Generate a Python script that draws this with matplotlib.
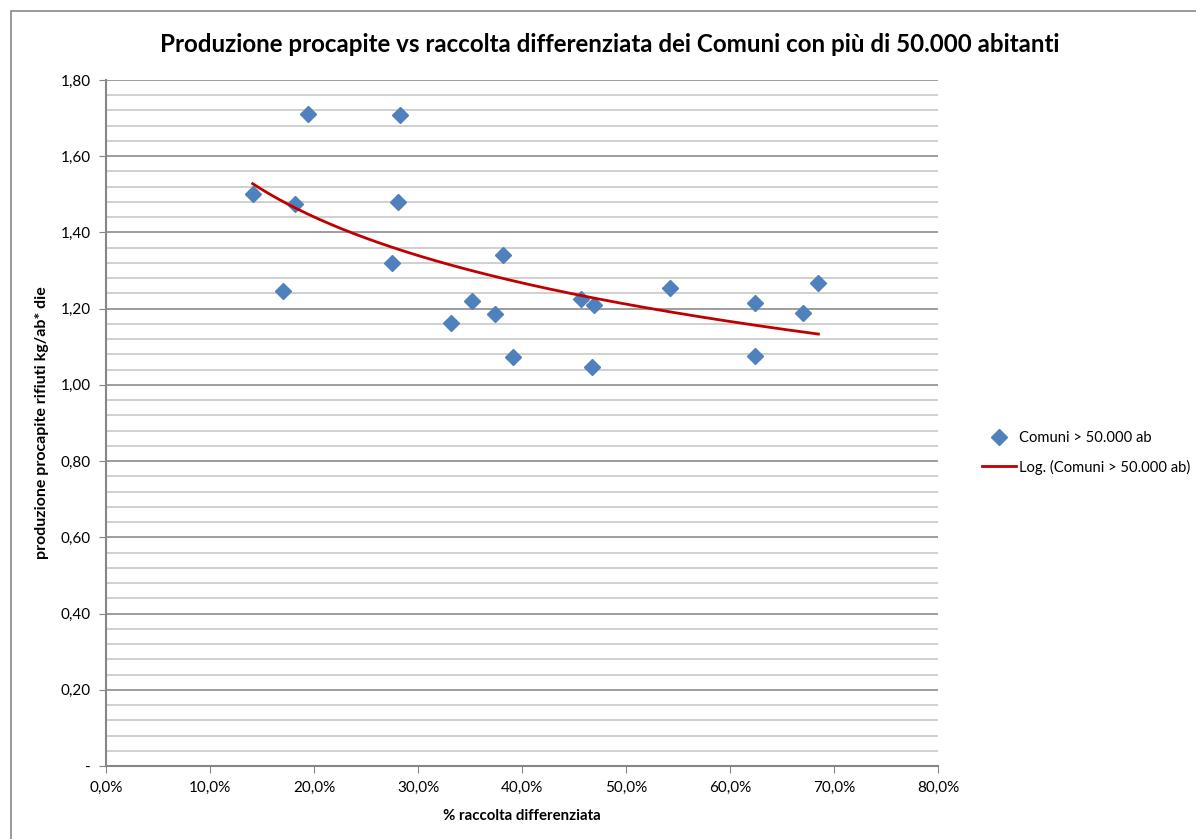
import numpy as np
import matplotlib
matplotlib.use('Agg')
import matplotlib.pyplot as plt
from matplotlib.ticker import FuncFormatter, MultipleLocator
from matplotlib.patches import Rectangle

plt.rcParams['font.family'] = ['Lato', 'DejaVu Sans']

# % raccolta differenziata (in %) and produzione procapite (kg/ab*die)
raccolta = [14.1, 17.0, 18.2, 19.4, 27.5, 28.1, 28.3, 33.2, 35.2, 37.4,
            38.2, 39.1, 45.7, 46.9, 46.7, 54.2, 62.4, 62.4, 67.0, 68.5]
produzione = [1.502, 1.246, 1.475, 1.712, 1.320, 1.481, 1.707, 1.162, 1.221, 1.186,
              1.342, 1.073, 1.226, 1.210, 1.048, 1.253, 1.215, 1.076, 1.189, 1.268]

x = np.array(raccolta) / 100
y = np.array(produzione)

# logarithmic trend line (like Excel)
a, b = np.polyfit(np.log(x), y, 1)
xt = np.linspace(x.min(), x.max(), 200)
yt = a * np.log(xt) + b

fig = plt.figure(figsize=(11.96, 8.39), dpi=100)
ax = fig.add_axes([106/1196, 1 - 766/839, (938-106)/1196, (766-80)/839])

# outer chart border
fig.patches.append(Rectangle((11/1196, -0.05), 1.1, 1 - 11/839 + 0.05,
                             transform=fig.transFigure, fill=False,
                             edgecolor='#878787', lw=1.2))

ax.set_xlim(0, 0.8)
ax.set_ylim(0, 1.8)
ax.yaxis.set_major_locator(MultipleLocator(0.2))
ax.yaxis.set_minor_locator(MultipleLocator(0.04))
ax.xaxis.set_major_locator(MultipleLocator(0.1))

ax.grid(axis='y', which='major', color='#8c8c8c', lw=1.2, zorder=0)
ax.grid(axis='y', which='minor', color='#c8c8c8', lw=1.2, zorder=0)
ax.set_axisbelow(True)

for s in ['top', 'right']:
    ax.spines[s].set_visible(False)
for s in ['left', 'bottom']:
    ax.spines[s].set_color('#868686')
    ax.spines[s].set_linewidth(1.5)

ax.tick_params(axis='both', which='major', length=5, color='#868686',
               labelsize=11, pad=6)
ax.tick_params(axis='y', which='minor', length=0)


def yfmt(v, pos):
    if abs(v) < 1e-9:
        return '-'
    return ('%.2f' % v).replace('.', ',')


def xfmt(v, pos):
    return ('%.1f%%' % (v * 100)).replace('.', ',')


ax.yaxis.set_major_formatter(FuncFormatter(yfmt))
ax.xaxis.set_major_formatter(FuncFormatter(xfmt))

ax.plot(x, y, linestyle='none', marker='D', markersize=8.5, color='#4F81BD',
        label='Comuni > 50.000 ab', zorder=3)
ax.plot(xt, yt, color='#C00000', lw=2, label='Log. (Comuni > 50.000 ab)', zorder=4)

ax.set_xlabel('% raccolta differenziata', fontsize=10.8, fontweight='bold', labelpad=10)
ax.set_ylabel('produzione procapite rifiuti kg/ab* die', fontsize=11.5,
              fontweight='bold', labelpad=8)

fig.text(610/1196, 1 - 45/839, 'Produzione procapite vs raccolta differenziata dei Comuni con più di 50.000 abitanti',
         ha='center', va='center', fontsize=17.4, fontweight='bold')

fig.legend(loc='center left', bbox_to_anchor=(982/1196, 1 - 453/839), frameon=False,
           fontsize=10.6, handlelength=2.3, labelspacing=0.95, handletextpad=0.2,
           borderpad=0, borderaxespad=0)

fig.savefig('out.png', dpi=100)
